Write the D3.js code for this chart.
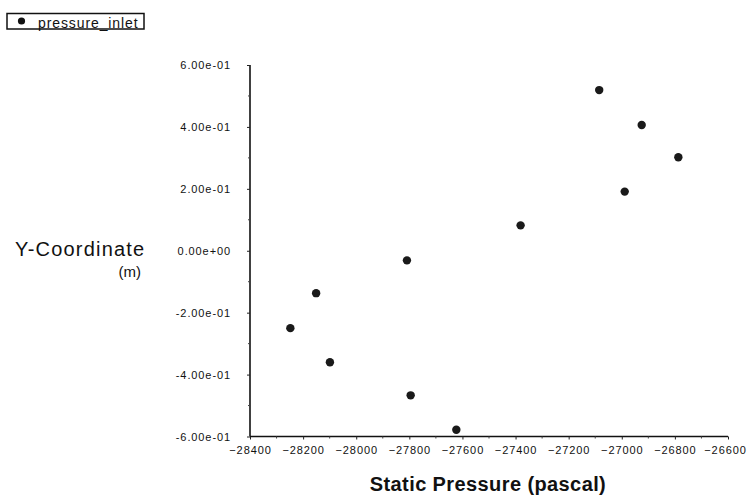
<!DOCTYPE html>
<html>
<head>
<meta charset="utf-8">
<script src="https://cdn.jsdelivr.net/npm/d3@7"></script>
<style>
  body { margin: 0; background: #fff; }
  svg { display: block; }
  text { font-family: "Liberation Sans", Arial, sans-serif; fill: #111; }
</style>
</head>
<body>
<svg id="chart" width="749" height="499"></svg>
<script>
// static pressure (pascal) vs y-coordinate (m) on the pressure inlet
const pressure = [-27085, -26925, -26787, -26989, -27381, -27809, -28151, -28248, -28099, -27795, -27623];
const yCoord = [0.519, 0.406, 0.302, 0.191, 0.082, -0.031, -0.137, -0.250, -0.360, -0.467, -0.578];

const xTicks = [-28400, -28200, -28000, -27800, -27600, -27400, -27200, -27000, -26800, -26600];
const yTicks = [0.6, 0.4, 0.2, 0, -0.2, -0.4, -0.6];
const yTickLabels = ["6.00e-01", "4.00e-01", "2.00e-01", "0.00e+00", "-2.00e-01", "-4.00e-01", "-6.00e-01"];
const seriesName = "pressure_inlet";

const svg = d3.select('#chart');
const plotLeft = 250, plotRight = 728, plotTop = 65, plotBottom = 436.5;

const x = d3.scaleLinear().domain([-28400, -26600]).range([plotLeft, plotRight]);
const y = d3.scaleLinear().domain([-0.6, 0.6]).range([plotBottom, plotTop]);

// minor tick positions, halfway between majors
let xMinor = [], yMinor = [];
for (let i = 0; i < xTicks.length - 1; i++) xMinor.push((xTicks[i] + xTicks[i + 1]) / 2);
for (let i = 0; i < yTicks.length - 1; i++) yMinor.push((yTicks[i] + yTicks[i + 1]) / 2);

// x axis
let xAxis = svg.append('g').attr('transform', `translate(0,${plotBottom})`)
  .call(d3.axisBottom(x).tickValues(xTicks).tickSize(3).tickPadding(8).tickFormat(d3.format('d')));
xAxis.select('.domain').attr('stroke', '#111').attr('stroke-width', 1.4).attr('d', `M${plotLeft},0H${plotRight}`);
xAxis.selectAll('.tick line').attr('stroke', '#222');
xAxis.selectAll('.tick text')
  .attr('font-size', 11).attr('letter-spacing', '0.9px')
  .attr('font-family', '"Liberation Sans", Arial, sans-serif').attr('fill', '#111')
  .attr('dy', '0.55em');
// last label pulled in a little so it stays inside the window
xAxis.selectAll('.tick text').filter(d => d === -26600).attr('dx', -3);
svg.append('g').selectAll('line').data(xMinor).join('line')
  .attr('x1', d => x(d)).attr('x2', d => x(d))
  .attr('y1', plotBottom).attr('y2', plotBottom + 2)
  .attr('stroke', '#444');

// y axis
let yAxis = svg.append('g').attr('transform', `translate(${plotLeft},0)`)
  .call(d3.axisLeft(y).tickValues(yTicks).tickSize(3).tickPadding(16)
    .tickFormat((d, i) => yTickLabels[i]));
yAxis.select('.domain').attr('stroke', '#111').attr('stroke-width', 1.6).attr('d', `M0,${plotTop}V${plotBottom}`);
yAxis.selectAll('.tick line').attr('stroke', '#222');
yAxis.selectAll('.tick text')
  .attr('font-size', 11).attr('letter-spacing', '0.9px')
  .attr('font-family', '"Liberation Sans", Arial, sans-serif').attr('fill', '#111');
svg.append('g').selectAll('line').data(yMinor).join('line')
  .attr('x1', plotLeft - 2).attr('x2', plotLeft)
  .attr('y1', d => y(d)).attr('y2', d => y(d))
  .attr('stroke', '#444');

// points
svg.append('g').selectAll('circle').data(pressure).join('circle')
  .attr('cx', d => x(d))
  .attr('cy', (d, i) => y(yCoord[i]))
  .attr('r', 4.2)
  .attr('fill', '#1a1a1a');

// axis titles
svg.append('text')
  .attr('x', 488).attr('y', 491)
  .attr('text-anchor', 'middle')
  .attr('font-size', 20).attr('font-weight', 'bold').attr('letter-spacing', '0.4px')
  .text('Static Pressure (pascal)');

svg.append('text')
  .attr('x', 15).attr('y', 256)
  .attr('font-size', 20).attr('letter-spacing', '1.2px')
  .text('Y-Coordinate');
svg.append('text')
  .attr('x', 141).attr('y', 277)
  .attr('text-anchor', 'end')
  .attr('font-size', 15)
  .text('(m)');

// legend
let legend = svg.append('g');
legend.append('rect')
  .attr('x', 7).attr('y', 13.5).attr('width', 137).attr('height', 15.5)
  .attr('fill', 'none').attr('stroke', '#111').attr('stroke-width', 1.5);
legend.append('circle').attr('cx', 21.5).attr('cy', 21).attr('r', 3.6).attr('fill', '#111');
legend.append('text')
  .attr('x', 38).attr('y', 28)
  .attr('font-size', 14).attr('letter-spacing', '0.9px')
  .text(seriesName);
</script>
</body>
</html>
